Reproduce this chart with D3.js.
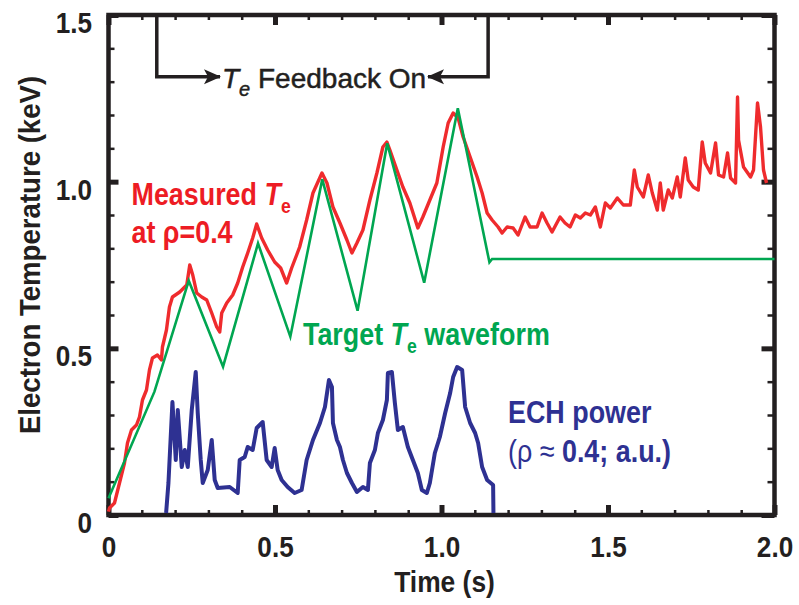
<!DOCTYPE html>
<html>
<head>
<meta charset="utf-8">
<script src="https://cdn.jsdelivr.net/npm/d3@7"></script>
<style>
  body { margin: 0; background: #fff; }
  svg { display: block; }
</style>
</head>
<body>
<svg width="799" height="605"></svg>
<script>
// Measured Te at rho=0.4 (keV) vs time (s)
const redT = [0, 0.003, 0.018, 0.048, 0.057, 0.069, 0.084, 0.093, 0.102, 0.114, 0.123, 0.132, 0.147, 0.159, 0.162,
  0.174, 0.183, 0.192, 0.214, 0.235, 0.244, 0.253, 0.265, 0.280, 0.295, 0.310, 0.325, 0.334, 0.340, 0.355, 0.373,
  0.388, 0.403, 0.418, 0.433, 0.445, 0.460, 0.478, 0.499, 0.517, 0.535, 0.550, 0.565, 0.574, 0.595, 0.614, 0.641,
  0.656, 0.674, 0.695, 0.716, 0.731, 0.746, 0.764, 0.785, 0.806, 0.824, 0.836, 0.845, 0.866, 0.884, 0.905, 0.929,
  0.944, 0.965, 0.986, 1.005, 1.020, 1.035, 1.050, 1.065, 1.086, 1.107, 1.122, 1.137, 1.152, 1.170, 1.182, 1.197,
  1.215, 1.230, 1.251, 1.266, 1.287, 1.302, 1.317, 1.332, 1.356, 1.371, 1.386, 1.402, 1.417, 1.432, 1.447, 1.462,
  1.477, 1.492, 1.507, 1.528, 1.546, 1.567, 1.579, 1.588, 1.606, 1.621, 1.633, 1.648, 1.657, 1.666, 1.681, 1.693,
  1.708, 1.717, 1.732, 1.741, 1.756, 1.771, 1.783, 1.792, 1.808, 1.823, 1.832, 1.847, 1.859, 1.868, 1.883, 1.889,
  1.892, 1.907, 1.928, 1.937, 1.949, 1.958, 1.967, 1.976];
const redV = [0.01, 0.021, 0.036, 0.156, 0.216, 0.255, 0.270, 0.294, 0.345, 0.375, 0.435, 0.471, 0.480, 0.465, 0.504,
  0.555, 0.624, 0.654, 0.669, 0.690, 0.750, 0.720, 0.666, 0.654, 0.645, 0.606, 0.564, 0.549, 0.606, 0.636, 0.660,
  0.696, 0.744, 0.786, 0.831, 0.873, 0.831, 0.795, 0.759, 0.741, 0.696, 0.741, 0.780, 0.804, 0.885, 0.966, 1.026,
  0.996, 0.924, 0.876, 0.825, 0.786, 0.816, 0.855, 0.945, 1.026, 1.104, 1.119, 1.095, 1.035, 0.984, 0.936, 0.861,
  0.894, 0.945, 0.996, 1.104, 1.176, 1.206, 1.191, 1.134, 1.074, 1.014, 0.966, 0.906, 0.885, 0.864, 0.846, 0.864,
  0.861, 0.840, 0.894, 0.864, 0.864, 0.906, 0.876, 0.849, 0.894, 0.876, 0.864, 0.900, 0.891, 0.906, 0.900, 0.924,
  0.864, 0.936, 0.921, 0.951, 0.930, 0.930, 1.035, 0.984, 0.954, 1.020, 0.966, 0.915, 0.996, 0.915, 0.975, 0.951,
  1.014, 0.954, 1.071, 1.005, 0.984, 0.975, 1.119, 1.056, 1.026, 1.116, 1.020, 1.014, 1.086, 1.011, 0.996, 1.254,
  1.125, 1.044, 1.014, 1.035, 1.236, 1.164, 1.035, 0.996];

// Target Te waveform (keV)
const greenT = [0, 0.138, 0.241, 0.344, 0.449, 0.546, 0.642, 0.748, 0.837, 0.948, 1.049, 1.144, 1.152, 2.0];
const greenV = [0.05, 0.37, 0.703, 0.445, 0.815, 0.535, 1.007, 0.613, 1.115, 0.697, 1.22, 0.758, 0.768, 0.768];

// ECH power (a.u., plotted on the same axis)
const blueT = [0.173, 0.180, 0.192, 0.202, 0.208, 0.220, 0.229, 0.238, 0.250, 0.262, 0.268, 0.277, 0.283, 0.298,
  0.310, 0.319, 0.328, 0.364, 0.388, 0.394, 0.409, 0.418, 0.433, 0.445, 0.463, 0.475, 0.490, 0.499, 0.508, 0.520,
  0.538, 0.559, 0.580, 0.595, 0.614, 0.635, 0.650, 0.662, 0.671, 0.674, 0.686, 0.695, 0.704, 0.716, 0.731, 0.746,
  0.764, 0.779, 0.785, 0.800, 0.809, 0.824, 0.836, 0.839, 0.851, 0.860, 0.869, 0.884, 0.899, 0.914, 0.929, 0.941,
  0.956, 0.965, 0.980, 0.995, 1.011, 1.026, 1.035, 1.047, 1.062, 1.071, 1.086, 1.101, 1.110, 1.122, 1.137, 1.155,
  1.156];
const blueV = [0.006, 0.096, 0.339, 0.165, 0.315, 0.144, 0.195, 0.144, 0.315, 0.429, 0.306, 0.165, 0.096, 0.135,
  0.225, 0.105, 0.081, 0.084, 0.066, 0.165, 0.174, 0.204, 0.195, 0.261, 0.279, 0.165, 0.144, 0.201, 0.135, 0.105,
  0.084, 0.066, 0.075, 0.165, 0.225, 0.276, 0.324, 0.405, 0.384, 0.276, 0.225, 0.204, 0.165, 0.126, 0.096, 0.069,
  0.084, 0.075, 0.156, 0.195, 0.246, 0.285, 0.345, 0.426, 0.429, 0.336, 0.255, 0.264, 0.204, 0.165, 0.126, 0.075,
  0.066, 0.096, 0.186, 0.234, 0.306, 0.366, 0.414, 0.444, 0.435, 0.324, 0.276, 0.246, 0.216, 0.144, 0.105, 0.090,
  0.006];

const xMajor = [0, 0.5, 1.0, 1.5, 2.0];
const yMajor = [0, 0.5, 1.0, 1.5];
const xMinor = d3.range(0, 2.001, 0.1);
const yMinor = d3.range(0, 1.501, 0.1);

// Te feedback window (s) and height of the bracket (keV)
const feedbackOn = [0.145, 1.14];
const bracketY = 1.315;

const svg = d3.select('svg');
const width = 799;
const height = 605;
const margin = { top: 15, right: 24.5, bottom: 90, left: 108.5 };
const innerWidth = width - margin.left - margin.right;
const innerHeight = height - margin.top - margin.bottom;

const boldFont = '"Liberation Sans", Arial, Helvetica, sans-serif';

const x = d3.scaleLinear().domain([0, 2]).range([0, innerWidth]);
const y = d3.scaleLinear().domain([0, 1.5]).range([innerHeight, 0]);

const g = svg.append('g').attr('transform', `translate(${margin.left},${margin.top})`);

const fmt = (d) => (d === 0 ? '0' : d3.format('.1f')(d));
const noText = (s) => s.selectAll('text').remove();

// minor ticks on all four sides
g.append('g').attr('transform', `translate(0,${innerHeight})`)
	.call(d3.axisBottom(x).tickValues(xMinor).tickSize(-5)).call(noText);
g.append('g').call(d3.axisTop(x).tickValues(xMinor).tickSize(-5)).call(noText);
g.append('g').call(d3.axisLeft(y).tickValues(yMinor).tickSize(-6)).call(noText);
g.append('g').attr('transform', `translate(${innerWidth},0)`)
	.call(d3.axisRight(y).tickValues(yMinor).tickSize(-7)).call(noText);
g.selectAll('.tick line').attr('stroke', '#231f20').attr('stroke-width', 2.5);

// major ticks + labels
const styleLabels = (s) => s.selectAll('.tick text')
	.attr('font-family', boldFont).attr('font-weight', 'bold').attr('font-size', 30)
	.attr('fill', '#231f20');

g.append('g').attr('class', 'major').attr('transform', `translate(0,${innerHeight})`)
	.call(d3.axisBottom(x).tickValues(xMajor).tickSize(-10).tickFormat(fmt))
	.call(styleLabels)
	.call((s) => s.selectAll('.tick text').attr('y', 42).attr('dy', 0).attr('transform', 'scale(0.87,1)'));

g.append('g').attr('class', 'major')
	.call(d3.axisLeft(y).tickValues(yMajor).tickSize(-10).tickFormat(fmt))
	.call(styleLabels)
	.call((s) => s.selectAll('.tick text').attr('x', -19).attr('y', 8).attr('transform', 'scale(0.87,1)'));

g.append('g').attr('class', 'major')
	.call(d3.axisTop(x).tickValues(xMajor).tickSize(-10)).call(noText);
g.append('g').attr('class', 'major').attr('transform', `translate(${innerWidth},0)`)
	.call(d3.axisRight(y).tickValues(yMajor).tickSize(-13)).call(noText);

g.selectAll('.major .tick line').attr('stroke', '#231f20').attr('stroke-width', 5);
g.selectAll('.domain').remove();

// frame
g.append('rect')
	.attr('width', innerWidth).attr('height', innerHeight)
	.attr('fill', 'none').attr('stroke', '#231f20').attr('stroke-width', 4.5);

// series
const line = d3.line().x((d) => x(d[0])).y((d) => y(d[1]));

g.append('path')
	.datum(d3.zip(redT, redV))
	.attr('d', line)
	.attr('fill', 'none').attr('stroke', '#ef2b2d').attr('stroke-width', 3.4)
	.attr('stroke-linejoin', 'round');

g.append('path')
	.datum(d3.zip(blueT, blueV))
	.attr('d', line)
	.attr('fill', 'none').attr('stroke', '#2e3192').attr('stroke-width', 4)
	.attr('stroke-linejoin', 'round');

g.append('path')
	.datum(d3.zip(greenT, greenV))
	.attr('d', line)
	.attr('fill', 'none').attr('stroke', '#00a651').attr('stroke-width', 2.6)
	.attr('stroke-linejoin', 'miter');

// feedback bracket
svg.append('defs').append('marker')
	.attr('id', 'arrow')
	.attr('markerUnits', 'userSpaceOnUse')
	.attr('viewBox', '0 -8 17 16')
	.attr('markerWidth', 17).attr('markerHeight', 16)
	.attr('refX', 16).attr('refY', 0)
	.attr('orient', 'auto')
	.append('path')
	.attr('d', 'M0,-7.5L17,0L0,7.5L4,0Z')
	.attr('fill', '#231f20');

const arrowTips = [x.invert(111.5), x.invert(319.5)];
feedbackOn.forEach((t, i) => {
	g.append('path')
		.datum([[t, 1.5], [t, bracketY], [arrowTips[i], bracketY]])
		.attr('d', line)
		.attr('fill', 'none').attr('stroke', '#231f20').attr('stroke-width', 3.5)
		.attr('marker-end', 'url(#arrow)');
});

// text helpers
function label(px, py, sx, parts, opts = {}) {
	const t = svg.append('g')
		.attr('transform', `translate(${px},${py})${opts.rotate ? ` rotate(${opts.rotate})` : ''} scale(${sx},1)`)
		.append('text')
		.attr('font-family', boldFont)
		.attr('font-size', opts.size || 32)
		.attr('font-weight', opts.weight || 'bold')
		.attr('fill', opts.color || '#231f20')
		.attr('text-anchor', opts.anchor || 'start');
	parts.forEach((p) => {
		const ts = t.append('tspan').text(p.text);
		if (p.italic) ts.attr('font-style', 'italic');
		if (p.weight) ts.attr('font-weight', p.weight);
		if (p.size) ts.attr('font-size', p.size);
		if (p.dy) ts.attr('dy', p.dy);
	});
	if (opts.stroke) t.attr('stroke', opts.color || '#231f20').attr('stroke-width', opts.stroke);
	return t;
}

const red = '#ed1c24';
const green = '#00a651';
const blue = '#2e3192';

label(131.5, 205, 0.84, [
	{ text: 'Measured ' }, { text: 'T', italic: true }, { text: 'e', size: 21, dy: 8 }
], { color: red });
label(131.5, 243, 0.84, [{ text: 'at ρ=0.4' }], { color: red });

label(303, 345, 0.84, [
	{ text: 'Target ' }, { text: 'T', italic: true }, { text: 'e', size: 21, dy: 8 }, { text: ' waveform', dy: -8 }
], { color: green });

label(508, 423, 0.84, [{ text: 'ECH power' }], { color: blue });
label(508, 462, 0.84, [
	{ text: '(ρ ≈ ', weight: 'normal' }, { text: '0.4; a.u.)' }
], { color: blue });

label(222, 88, 1, [
	{ text: 'T', italic: true }, { text: 'e', italic: true, size: 20, dy: 8 }, { text: ' Feedback On', dy: -8 }
], { size: 28, weight: 'normal', stroke: 0.5 });

// axis titles
label(444.5, 592, 0.91, [{ text: 'Time (s)' }], { size: 29, anchor: 'middle' });
label(40, 255, 0.92, [{ text: 'Electron Temperature (keV)' }], { size: 30, anchor: 'middle', rotate: -90 });
</script>
</body>
</html>
